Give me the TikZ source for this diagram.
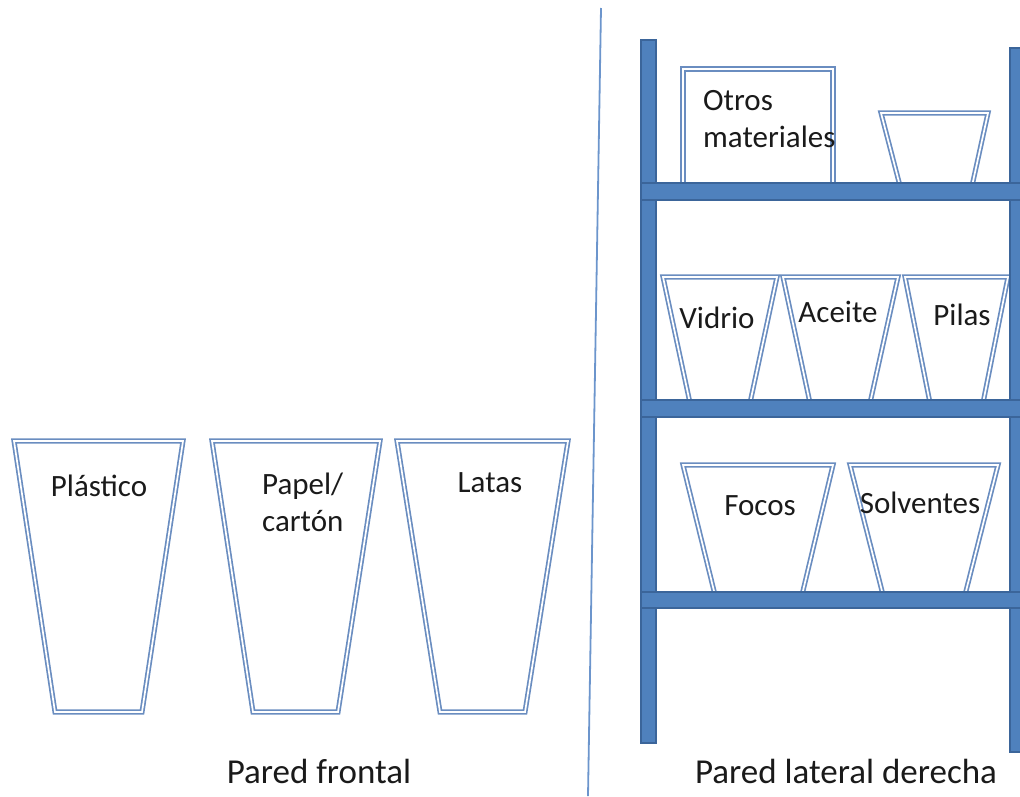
\documentclass[tikz,border=0pt]{standalone}
\usepackage{fontspec}
\setmainfont{Carlito}
\definecolor{shelfblue}{HTML}{4F81BD}
\definecolor{shelfedge}{HTML}{3B659A}
\definecolor{binline}{HTML}{6A8DC0}
\definecolor{wallline}{HTML}{6C95CC}
\definecolor{ink}{HTML}{1A1A1A}

\begin{document}
\begin{tikzpicture}[x=1pt,y=-1pt,
  bin/.style={draw=binline, line width=1.7pt, double=white, double distance=1.7pt, line join=miter},
  rack/.style={fill=shelfblue, draw=shelfedge, line width=1.2pt},
  lbl/.style={font=\fontsize{31}{37}\selectfont, text=ink, inner sep=0pt, anchor=base},
  lbltwo/.style={font=\fontsize{31}{37}\selectfont, text=ink, inner sep=0pt, anchor=base west, align=left},
  walllbl/.style={font=\fontsize{35}{42}\selectfont, text=ink, inner sep=0pt, anchor=base}]
\useasboundingbox (0,0) rectangle (1020,796);

% divider between the two walls
\draw[wallline, line width=1.8pt] (601,8) coordinate (divtop) -- (588,796) coordinate (divbot);

% front wall bins
\draw[bin] (14,441) -- (183,441) -- (142,712) -- (55,712) -- cycle;
\draw[bin] (212,441) -- (380,441) -- (338,712) -- (253,712) -- cycle;
\draw[bin] (397,441) -- (568,441) -- (525,712) -- (440,712) -- cycle;
\node[lbl] (plastico) at (99,496) {Plástico};
\node[lbltwo] (papel) at (262,531) {Papel/\\cartón};
\node[lbl] (latas) at (490,492) {Latas};
\node[walllbl] (frontal) at (319,783) {Pared frontal};

% items on the shelving unit
\draw[bin] (683,190) -- (683,69) -- (833,69) -- (833,190);
\draw[bin] (881,113) -- (988,113) -- (972,186) -- (900,186) -- cycle;
\draw[bin] (663,277) -- (777,277) -- (750,403) -- (690,403) -- cycle;
\draw[bin] (783,277) -- (898,277) -- (870,403) -- (810,403) -- cycle;
\draw[bin] (905,277) -- (1008,277) -- (983,403) -- (930,403) -- cycle;
\draw[bin] (683,465) -- (833,465) -- (802,595) -- (715,595) -- cycle;
\draw[bin] (850,465) -- (998,465) -- (965,595) -- (883,595) -- cycle;

% shelving unit: posts, then shelves on top
\draw[rack] (641,40) rectangle (656,743);
\draw[rack] (1010,48) rectangle (1026,752);
\draw[rack] (641,183) rectangle (1026,200);
\draw[rack] (641,400) rectangle (1026,417);
\draw[rack] (641,592) rectangle (1026,608);

\node[lbltwo] (otros) at (703,147) {Otros\\materiales};
\node[lbl] (vidrio) at (717,328) {Vidrio};
\node[lbl] (aceite) at (838,322) {Aceite};
\node[lbl] (pilas) at (962,325) {Pilas};
\node[lbl] (focos) at (760,515) {Focos};
\node[lbl] (solventes) at (920,513) {Solventes};
\node[walllbl] (lateral) at (846,783) {Pared lateral derecha};
\end{tikzpicture}
\end{document}
